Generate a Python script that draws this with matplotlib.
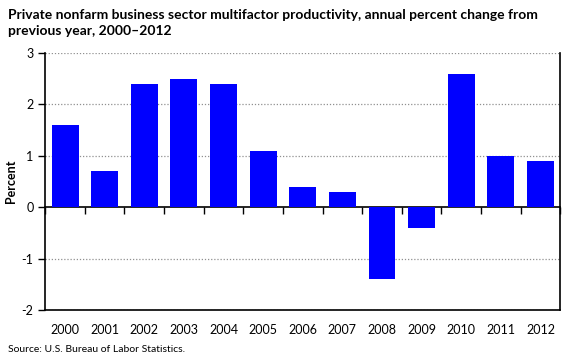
import numpy as np
import matplotlib.pyplot as plt

years = ['2000', '2001', '2002', '2003', '2004', '2005', '2006',
         '2007', '2008', '2009', '2010', '2011', '2012']
pct_change = [1.6, 0.7, 2.4, 2.5, 2.4, 1.1, 0.4, 0.3, -1.4, -0.4, 2.6, 1.0, 0.9]
y_ticks = [-2, -1, 0, 1, 2, 3]

plt.rcParams['font.family'] = ['Lato', 'DejaVu Sans']

fig = plt.figure(figsize=(5.8, 3.63), dpi=100)
ax = fig.add_axes([0.078, 0.146, 0.888, 0.708])

x = np.arange(len(years))
ax.bar(x, pct_change, width=0.68, color='#0000ff', zorder=3)

ax.set_xlim(-0.5, len(years) - 0.5)
ax.set_ylim(-2, 3)
ax.set_yticks(y_ticks)
ax.set_yticklabels([str(t) for t in y_ticks], fontsize=9)
ax.set_xticks(x)
ax.set_xticklabels(years, fontsize=9)
ax.tick_params(axis='x', length=0, pad=10)
ax.tick_params(axis='y', length=5, direction='out', width=1)

for t in y_ticks:
    if t != 0:
        ax.axhline(t, color='#909090', linestyle=(0, (1, 1.5)), linewidth=0.9, zorder=1)

for s in ax.spines.values():
    s.set_linewidth(1.2)
ax.spines['top'].set_visible(False)

# zero line with category boundary ticks
zero = ax.secondary_xaxis(0, transform=ax.transData)
zero.set_xticks(np.arange(len(years) + 1) - 0.5)
zero.tick_params(axis='x', direction='out', length=5, width=1, labelbottom=False)
zero.spines['bottom'].set_linewidth(1.2)
zero.spines['bottom'].set_zorder(4)

ax.set_ylabel('Percent', fontsize=9, fontweight='bold', labelpad=3)

fig.text(0.014, 0.975, 'Private nonfarm business sector multifactor productivity, annual percent change from\nprevious year, 2000\u20132012',
         fontsize=10, fontweight='bold', va='top', ha='left', linespacing=1.35)
fig.text(0.014, 0.025, 'Source: U.S. Bureau of Labor Statistics.', fontsize=7.5, ha='left', va='bottom')

fig.savefig('out.png', dpi=100)
